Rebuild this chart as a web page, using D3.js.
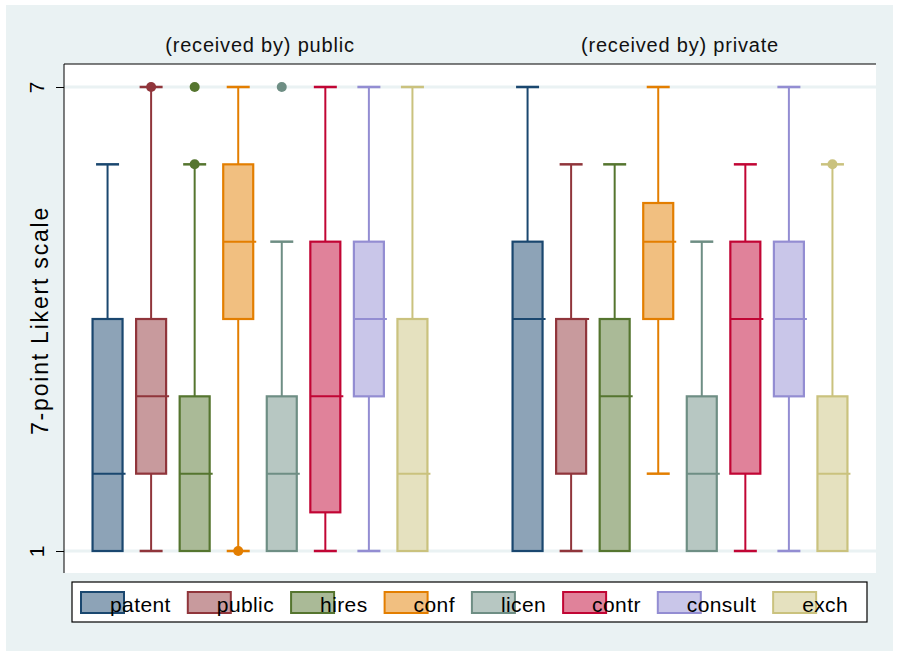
<!DOCTYPE html>
<html>
<head>
<meta charset="utf-8">
<script src="https://cdn.jsdelivr.net/npm/d3@7"></script>
<style>
  body { margin: 0; background: #fff; }
  svg { display: block; font-family: "Liberation Sans", Arial, sans-serif; }
</style>
</head>
<body>
<svg width="899" height="656"></svg>
<script>
// data
const panels = ['public', 'private']
const panelTitles = ['(received by) public', '(received by) private']
const categories = ['patent', 'public', 'hires', 'conf', 'licen', 'contr', 'consult', 'exch']
const colors = ['#1a476f', '#90353b', '#55752f', '#e37e00', '#6e8e84', '#c10534', '#938dd2', '#cac27e']
const yTicks = [1, 7]

// per panel, per category
const lowWhisker = [[1, 1, 1, 1, 1, 1, 1, 1], [1, 1, 1, 2, 1, 1, 1, 1]]
const q1 = [[1, 2, 1, 4, 1, 1.5, 3, 1], [1, 2, 1, 4, 1, 2, 3, 1]]
const median = [[2, 3, 2, 5, 2, 3, 4, 2], [4, 4, 3, 5, 2, 4, 4, 2]]
const q3 = [[4, 4, 3, 6, 3, 5, 5, 4], [5, 4, 4, 5.5, 3, 5, 5, 3]]
const highWhisker = [[6, 7, 6, 7, 5, 7, 7, 7], [7, 6, 6, 7, 5, 6, 7, 6]]
const outliers = [[[], [7], [6, 7], [1], [7], [], [], []], [[], [], [], [], [], [], [], [6]]]

const svg = d3.select('svg')
const W = 899, H = 656
const plot = { left: 64, right: 876, top: 64, bottom: 573 }

// outer graph region
svg.append('rect').attr('x', 6).attr('y', 5).attr('width', W - 12).attr('height', H - 10).attr('fill', '#eaf2f3')
svg.append('rect').attr('x', plot.left).attr('y', plot.top)
  .attr('width', plot.right - plot.left).attr('height', plot.bottom - plot.top).attr('fill', '#fff')

const y = d3.scaleLinear().domain([1, 7]).range([551, 87])

const xPanel = d3.scaleBand().domain(panels).range([plot.left, plot.right]).paddingInner(0.0667)
const xCat = d3.scalePoint().domain(categories).range([0, xPanel.bandwidth()]).padding(1)

// grid lines
svg.append('g').selectAll('line').data(yTicks).enter().append('line')
  .attr('x1', plot.left).attr('x2', plot.right)
  .attr('y1', d => y(d)).attr('y2', d => y(d))
  .attr('stroke', '#eaf2f3').attr('stroke-width', 3)

// axis
const yAxis = svg.append('g')
  .attr('transform', `translate(${plot.left},0)`)
  .call(d3.axisLeft(y).tickValues(yTicks).tickSize(8).tickPadding(6).tickFormat(d3.format('d')))
yAxis.select('.domain').attr('d', `M0,${plot.top}V${plot.bottom}`).attr('stroke', '#000')
yAxis.selectAll('.tick line').attr('stroke', '#000')
yAxis.selectAll('.tick text')
  .attr('font-size', 21).attr('fill', '#000')
  .attr('transform', 'rotate(-90)').attr('x', 0).attr('y', -20)
  .attr('text-anchor', 'middle').attr('dy', 0)
  .attr('font-family', '"Liberation Sans", Arial, sans-serif')

svg.append('line').attr('x1', plot.left).attr('x2', plot.right)
  .attr('y1', plot.top).attr('y2', plot.top).attr('stroke', '#000').attr('stroke-width', 1.2)

svg.append('text')
  .attr('transform', `translate(48, ${(plot.top + plot.bottom) / 2 + 2}) rotate(-90)`)
  .attr('text-anchor', 'middle').attr('font-size', 23).attr('letter-spacing', 1.8).attr('fill', '#000')
  .text('7-point Likert scale')

const boxW = 30, capW = 23

panels.forEach((p, pi) => {
  const g = svg.append('g').attr('transform', `translate(${xPanel(p)},0)`)

  g.append('text')
    .attr('x', xPanel.bandwidth() / 2).attr('y', 52)
    .attr('text-anchor', 'middle').attr('font-size', 20).attr('letter-spacing', 0.8).attr('fill', '#111')
    .text(panelTitles[pi])

  categories.forEach((c, ci) => {
    const cx = xCat(c)
    const col = colors[ci]
    const b = g.append('g')

    // whiskers
    b.append('line').attr('x1', cx).attr('x2', cx)
      .attr('y1', y(q3[pi][ci])).attr('y2', y(highWhisker[pi][ci]))
      .attr('stroke', col).attr('stroke-width', 2)
    b.append('line').attr('x1', cx).attr('x2', cx)
      .attr('y1', y(q1[pi][ci])).attr('y2', y(lowWhisker[pi][ci]))
      .attr('stroke', col).attr('stroke-width', 2)
    // caps
    b.append('line').attr('x1', cx - capW / 2).attr('x2', cx + capW / 2)
      .attr('y1', y(highWhisker[pi][ci])).attr('y2', y(highWhisker[pi][ci]))
      .attr('stroke', col).attr('stroke-width', 2.5)
    if (lowWhisker[pi][ci] < q1[pi][ci]) {
      b.append('line').attr('x1', cx - capW / 2).attr('x2', cx + capW / 2)
        .attr('y1', y(lowWhisker[pi][ci])).attr('y2', y(lowWhisker[pi][ci]))
        .attr('stroke', col).attr('stroke-width', 2.5)
    }

    // box
    b.append('rect')
      .attr('x', cx - boxW / 2).attr('width', boxW)
      .attr('y', y(q3[pi][ci])).attr('height', y(q1[pi][ci]) - y(q3[pi][ci]))
      .attr('fill', d3.interpolateRgb(col, '#fff')(0.5))
      .attr('stroke', col).attr('stroke-width', 2.2)

    // median
    b.append('line').attr('x1', cx - boxW / 2).attr('x2', cx + boxW / 2 + 3)
      .attr('y1', y(median[pi][ci])).attr('y2', y(median[pi][ci]))
      .attr('stroke', col).attr('stroke-width', 2)

    // outside values
    b.selectAll('circle').data(outliers[pi][ci]).enter().append('circle')
      .attr('cx', cx).attr('cy', d => y(d)).attr('r', 5)
      .attr('fill', col)
  })
})

// legend
const legend = svg.append('g')
legend.append('rect').attr('x', 72).attr('y', 582).attr('width', 795).attr('height', 40)
  .attr('fill', '#fff').attr('stroke', '#000').attr('stroke-width', 1.2)

let lx = 81
categories.forEach((c, ci) => {
  const col = colors[ci]
  legend.append('rect').attr('x', lx).attr('y', 592).attr('width', 43).attr('height', 21)
    .attr('fill', d3.interpolateRgb(col, '#fff')(0.5)).attr('stroke', col).attr('stroke-width', 2)
  const t = legend.append('text').attr('x', lx + 29).attr('y', 612)
    .attr('font-size', 21).attr('letter-spacing', 0.4).attr('fill', '#000').text(c)
  lx = lx + 29 + t.node().getComputedTextLength() + 17
})
</script>
</body>
</html>
